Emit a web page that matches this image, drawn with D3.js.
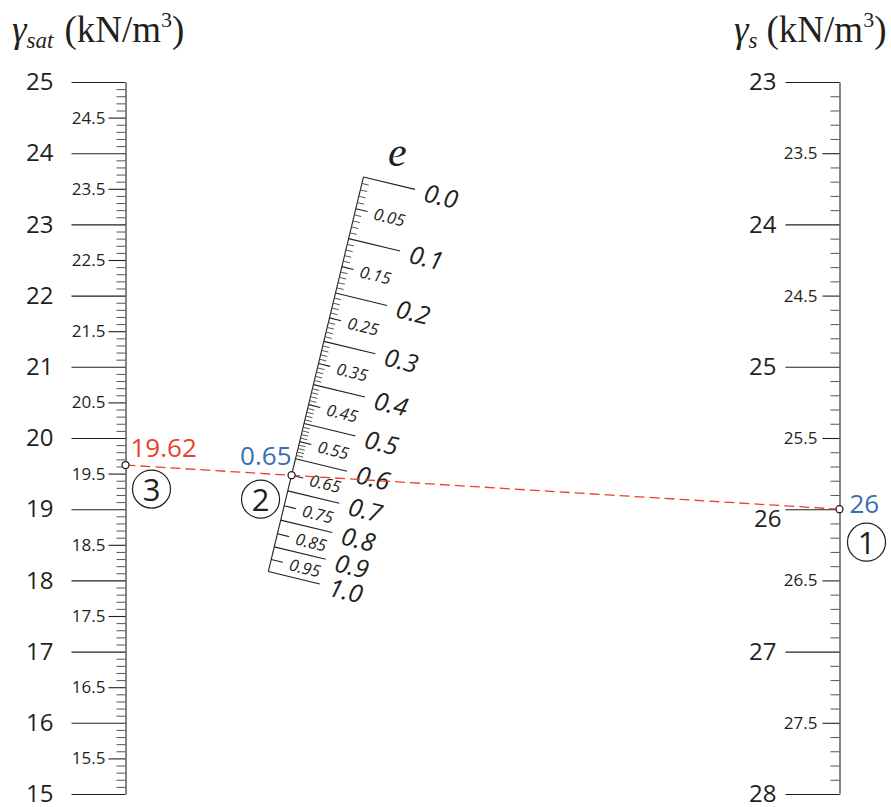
<!DOCTYPE html>
<html>
<head>
<meta charset="utf-8">
<script src="https://cdn.jsdelivr.net/npm/d3@7"></script>
<style>
  body { margin: 0; background: #fff; }
  svg text { fill: #231f20; }
</style>
</head>
<body>
<div id="chart-area"></div>
<script>
// nomogram data
const gammaW = 9.81;
const satDomain = [15, 25];
const satMajor = [15, 16, 17, 18, 19, 20, 21, 22, 23, 24, 25];
const satHalf = [15.5, 16.5, 17.5, 18.5, 19.5, 20.5, 21.5, 22.5, 23.5, 24.5];
const gsDomain = [23, 28];
const gsMajor = [23, 24, 25, 26, 27, 28];
const gsHalf = [23.5, 24.5, 25.5, 26.5, 27.5];
const eMajor = [0, 0.1, 0.2, 0.3, 0.4, 0.5, 0.6, 0.7, 0.8, 0.9, 1.0];
const eHalf = [0.05, 0.15, 0.25, 0.35, 0.45, 0.55, 0.65, 0.75, 0.85, 0.95];
const eMinorLimit = 0.6;
const example = { gs: 26, e: 0.65, sat: 19.62 };

const width = 891, height = 807;
const ink = "#231f20";
const red = "#e8412c";
const blue = "#3b6db3";
const sans = "'Open Sans', 'Noto Sans', sans-serif";
const serif = "'Liberation Serif', 'DejaVu Serif', serif";

const svg = d3.select("#chart-area")
    .append("svg")
    .attr("width", width)
    .attr("height", height);

const xL = 125.5, xR = 839.5;
const ySat = d3.scaleLinear().domain(satDomain).range([794, 82]);
const yGs = d3.scaleLinear().domain(gsDomain).range([82, 794]);

// titles
const t1 = svg.append("text").attr("x", 12).attr("y", 42)
    .attr("font-family", serif).attr("font-size", 37);
t1.append("tspan").attr("font-style", "italic").text("γ");
t1.append("tspan").attr("font-style", "italic").attr("font-size", 23).attr("dy", 6).text("sat");
t1.append("tspan").attr("dy", -6).attr("dx", 11).text("(kN/m");
t1.append("tspan").attr("font-size", 22).attr("dy", -15).text("3");
t1.append("tspan").attr("dy", 15).text(")");

const t2 = svg.append("text").attr("x", 734).attr("y", 42)
    .attr("font-family", serif).attr("font-size", 37);
t2.append("tspan").attr("font-style", "italic").text("γ");
t2.append("tspan").attr("font-style", "italic").attr("font-size", 23).attr("dy", 6).text("s");
t2.append("tspan").attr("dy", -6).attr("dx", 9).text("(kN/m");
t2.append("tspan").attr("font-size", 22).attr("dy", -15).text("3");
t2.append("tspan").attr("dy", 15).text(")");

// vertical scale helper
let drawScale = (scale, x, major, half, minorCount, majorPad, halfPad) => {
    const g = svg.append("g").attr("transform", "translate(" + x + ",0)");
    const skip = new Set(major.concat(half).map(d => d.toFixed(2)));
    const minor = scale.ticks(minorCount).filter(d => !skip.has(d.toFixed(2)));
    const minorAxis = g.append("g")
        .call(d3.axisLeft(scale).tickValues(minor).tickSize(9).tickSizeOuter(0).tickFormat(""));
    const halfAxis = g.append("g")
        .call(d3.axisLeft(scale).tickValues(half).tickSize(17).tickPadding(halfPad).tickFormat(d3.format(".1f")));
    const majorAxis = g.append("g")
        .call(d3.axisLeft(scale).tickValues(major).tickSize(54).tickPadding(majorPad).tickFormat(d3.format("d")));
    halfAxis.select(".domain").remove();
    majorAxis.select(".domain").remove();
    g.selectAll("path, line").attr("stroke", ink).attr("stroke-width", 1.1);
    minorAxis.selectAll("line").attr("stroke", "#555").attr("stroke-width", 1);
    halfAxis.selectAll("text").attr("font-family", sans).attr("font-size", 17).attr("fill", ink);
    majorAxis.selectAll("text").attr("font-family", sans).attr("font-size", 24).attr("fill", ink);
    return majorAxis;
};

drawScale(ySat, xL, satMajor, satHalf, 100, 18, 3);
const gsAxis = drawScale(yGs, xR, gsMajor, gsHalf, 50, 9, 5);
// label 26 pushed down to clear the key line
gsAxis.selectAll(".tick text").filter(d => d === example.gs)
    .attr("dx", 5).attr("dy", "0.72em");

// e scale: where all lines for a given e cross
let ePoint = e => {
    const a1 = ySat((gsDomain[0] + e * gammaW) / (1 + e)), b1 = yGs(gsDomain[0]);
    const a2 = ySat((gsDomain[1] + e * gammaW) / (1 + e)), b2 = yGs(gsDomain[1]);
    const t = (a1 - a2) / ((b2 - a2) - (b1 - a1));
    return [xL + t * (xR - xL), a1 + t * (b1 - a1)];
};
const p0 = ePoint(0), p1 = ePoint(1);
const len = Math.hypot(p1[0] - p0[0], p1[1] - p0[1]);
const dir = [(p1[0] - p0[0]) / len, (p1[1] - p0[1]) / len];
const u = [dir[1], -dir[0]];
const angle = Math.atan2(u[1], u[0]) * 180 / Math.PI;

const eg = svg.append("g");
eg.append("line")
    .attr("x1", p0[0]).attr("y1", p0[1]).attr("x2", p1[0]).attr("y2", p1[1])
    .attr("stroke", ink).attr("stroke-width", 1.1);

const skipE = new Set(eMajor.concat(eHalf).map(d => d.toFixed(2)));
const eMinor = d3.range(0, Math.round(eMinorLimit * 100) + 1).map(d => d / 100)
    .filter(d => !skipE.has(d.toFixed(2)));

let tickLines = (vals, size, color, w) => {
    eg.selectAll(null).data(vals).enter().append("line")
        .attr("x1", d => ePoint(d)[0]).attr("y1", d => ePoint(d)[1])
        .attr("x2", d => ePoint(d)[0] + size * u[0]).attr("y2", d => ePoint(d)[1] + size * u[1])
        .attr("stroke", color).attr("stroke-width", w);
};
let tickLabels = (vals, off, size, fmt) => {
    eg.selectAll(null).data(vals).enter().append("text")
        .attr("transform", d => {
            const p = ePoint(d);
            return "translate(" + (p[0] + off * u[0]) + "," + (p[1] + off * u[1]) + ") rotate(" + angle + ")";
        })
        .attr("dy", "0.38em")
        .attr("font-family", sans).attr("font-style", "italic").attr("font-size", size)
        .text(fmt);
};
tickLines(eMinor, 7, "#555", 1);
tickLines(eHalf, 12, ink, 1.1);
tickLines(eMajor, 53, ink, 1.1);
tickLabels(eHalf, 19, 16.5, d3.format(".2f"));
tickLabels(eMajor, 63, 25, d3.format(".1f"));

svg.append("text").attr("x", 388).attr("y", 166)
    .attr("font-family", serif).attr("font-style", "italic").attr("font-size", 42)
    .text("e");

// worked example
const A = [xL, ySat(example.sat)], B = ePoint(example.e), C = [xR, yGs(example.gs)];
svg.append("line")
    .attr("x1", A[0]).attr("y1", A[1]).attr("x2", C[0]).attr("y2", C[1])
    .attr("stroke", red).attr("stroke-width", 1.3).attr("stroke-dasharray", "10,5");
svg.selectAll(null).data([A, B, C]).enter().append("circle")
    .attr("cx", d => d[0]).attr("cy", d => d[1]).attr("r", 3.5)
    .attr("fill", "#fff").attr("stroke", ink).attr("stroke-width", 1.3);

svg.append("text").attr("x", A[0] + 5).attr("y", A[1] - 8)
    .attr("font-family", sans).attr("font-size", 26).style("fill", red)
    .text(d3.format(".2f")(example.sat));
svg.append("text").attr("x", B[0]).attr("y", B[1] - 10).attr("text-anchor", "end")
    .attr("font-family", sans).attr("font-size", 26).style("fill", blue)
    .text(d3.format(".2f")(example.e));
svg.append("text").attr("x", C[0] + 10).attr("y", C[1] + 4)
    .attr("font-family", sans).attr("font-size", 26).style("fill", blue)
    .text(example.gs);

// step markers
const steps = [
    { n: "1", x: C[0] + 27, y: C[1] + 33 },
    { n: "2", x: B[0] - 31, y: B[1] + 24 },
    { n: "3", x: A[0] + 26, y: A[1] + 24 }
];
const sg = svg.selectAll(null).data(steps).enter().append("g")
    .attr("transform", d => "translate(" + d.x + "," + d.y + ")");
sg.append("circle").attr("r", 19).attr("fill", "none").attr("stroke", ink).attr("stroke-width", 1.2);
sg.append("text").attr("text-anchor", "middle").attr("dy", "0.37em")
    .attr("font-family", sans).attr("font-size", 31)
    .text(d => d.n);
</script>
</body>
</html>
